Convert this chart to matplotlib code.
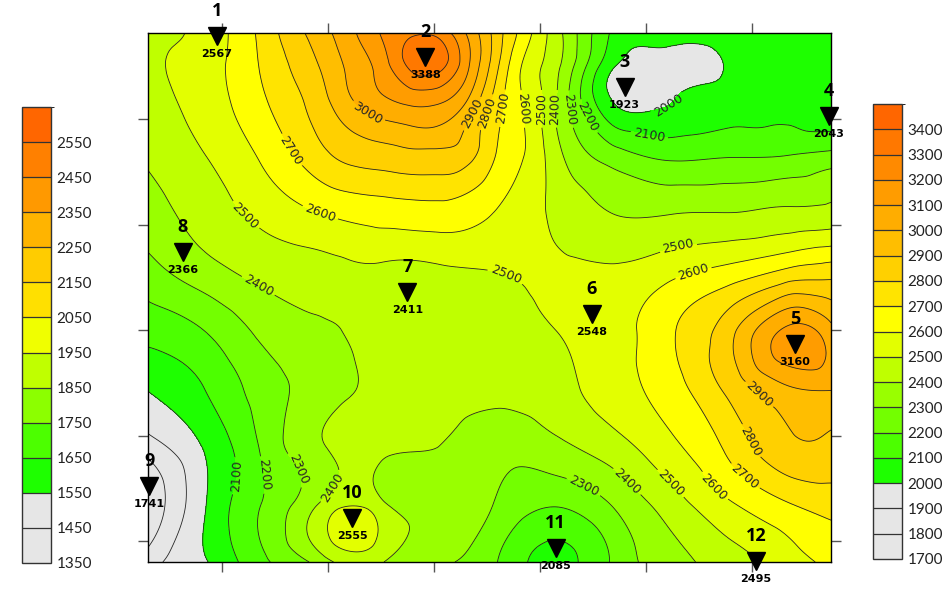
import numpy as np
import matplotlib
matplotlib.use("Agg")
import matplotlib.pyplot as plt
import matplotlib.tri as mtri
from matplotlib.colors import ListedColormap, BoundaryNorm
from matplotlib.cm import ScalarMappable

# survey grid (map units)
grid_x = [30, 85, 140, 195, 250, 305, 360, 415, 470, 525, 580, 635, 675]
grid_y = [582, 551, 520, 465, 410, 355, 300, 245, 190, 135, 80]
grid_z = [
    [2475, 2565, 2740, 2965, 3205, 3260, 2845, 2445, 2080, 2070, 2060, 2045, 2050],
    [2480, 2560, 2720, 2915, 3145, 3290, 2815, 2430, 2010, 1965, 2010, 2040, 2045],
    [2460, 2550, 2695, 2875, 3085, 3130, 2750, 2405, 2010, 1995, 2040, 2065, 2055],
    [2415, 2500, 2620, 2775, 2850, 2870, 2690, 2440, 2250, 2180, 2195, 2205, 2235],
    [2355, 2445, 2530, 2600, 2640, 2655, 2590, 2480, 2400, 2400, 2405, 2425, 2435],
    [2260, 2360, 2430, 2455, 2470, 2475, 2500, 2515, 2520, 2575, 2640, 2730, 2760],
    [2140, 2205, 2330, 2390, 2420, 2440, 2470, 2500, 2560, 2690, 2870, 3100, 3030],
    [2005, 2105, 2250, 2355, 2420, 2430, 2430, 2470, 2550, 2660, 2830, 2990, 3010],
    [1850, 2015, 2225, 2395, 2430, 2400, 2340, 2375, 2460, 2580, 2730, 2880, 2880],
    [1780, 2000, 2210, 2420, 2425, 2360, 2290, 2210, 2310, 2455, 2590, 2695, 2740],
    [1850, 1995, 2185, 2355, 2410, 2315, 2200, 2100, 2220, 2355, 2460, 2555, 2620],
]

# extra readings around the northern high and the low near well 3
infill_x = [112.5, 222.5, 277.5, 332.5, 387.5,
            112.5, 222.5, 332.5, 387.5,
            112.5, 222.5, 277.5, 332.5, 387.5,
            195, 222.5, 250, 277.5, 305, 332.5, 360, 387.5,
            222.5, 277.5, 332.5, 387.5,
            505, 560]
infill_y = [582, 582, 582, 582, 582,
            551, 551, 551, 551,
            520, 520, 520, 520, 520,
            492, 492, 492, 492, 492, 492, 492, 492,
            465, 465, 465, 465,
            540, 565]
infill_z = [2635, 3080, 3270, 3080, 2635,
            2625, 3030, 3110, 2570,
            2615, 3000, 3140, 3000, 2580,
            2830, 2910, 2960, 2990, 2990, 2880, 2710, 2590,
            2830, 2870, 2830, 2590,
            1945, 1990]

# wells
well_id = [1, 2, 3, 4, 5, 6, 7, 8, 9, 10, 11, 12]
well_x = [95, 292, 480, 673, 641, 449, 275, 63, 31, 223, 415, 604]
well_y = [579, 559, 531, 503, 287, 315, 336, 374, 152, 122, 93, 81]
well_val = [2567, 3388, 1923, 2043, 3160, 2548, 2411, 2366, 1741, 2555, 2085, 2495]

# colour scales
main_bounds = list(range(1700, 3600, 100))
main_colors = ["#e6e6e6", "#e6e6e6", "#e6e6e6",
               "#1eff00", "#4cff00", "#73ff00", "#99ff00", "#bfff00", "#e3ff00", "#ffff00",
               "#ffe400", "#ffd000", "#ffbe00", "#ffad00", "#ff9c00", "#ff8a00", "#ff7800", "#ff6600"]
side_bounds = list(range(1350, 2750, 100))
side_colors = ["#e6e6e6", "#e6e6e6", "#1eff00", "#4cff00", "#8cff00", "#c0ff00", "#f0ff00",
               "#ffe000", "#ffcc00", "#ffb400", "#ff9900", "#ff8000", "#ff6600"]

x_ticks = [100, 200, 300, 400, 500, 600]
y_ticks = [100, 200, 300, 400, 500]

# where the contour values are written on the lines
label_spots = [
    (238, 507), (332, 508), (355, 505), (369, 510), (385, 510), (402, 510),
    (417, 510), (431, 510), (450, 505), (504, 488), (518, 519),
    (159, 467), (191, 407), (120, 407), (134, 342), (367, 350),
    (530, 383), (544, 358), (603, 235), (600, 195), (596, 164),
    (565, 152), (525, 156), (482, 156), (440, 149),
    (109, 162), (134, 162), (161, 162), (191, 161),
]

# surface through the grid nodes, the extra readings and the well values
gx, gy = np.meshgrid(grid_x, grid_y)
px = np.concatenate([gx.ravel(), infill_x]).astype(float)
py = np.concatenate([gy.ravel(), infill_y]).astype(float)
pz = np.concatenate([np.array(grid_z).ravel(), infill_z]).astype(float)
keep = np.ones(px.size, bool)
for wx, wy in zip(well_x, well_y):
    keep &= np.hypot(px - wx, py - wy) > 20
tx = np.concatenate([px[keep], well_x])
ty = np.concatenate([py[keep], well_y])
tz = np.concatenate([pz[keep], well_val])

tri = mtri.Triangulation(tx, ty)
interp = mtri.CubicTriInterpolator(tri, tz, kind="min_E")
xi = np.linspace(30.01, 674.99, 420)
yi = np.linspace(80.01, 581.99, 330)
XI, YI = np.meshgrid(xi, yi)
ZI = interp(XI, YI)
ZI = np.ma.clip(ZI, main_bounds[0] + 1, main_bounds[-1] - 1)

fig = plt.figure(figsize=(9.45, 5.96), dpi=100)
ax = fig.add_axes([148 / 945, 34 / 596, 683 / 945, 529 / 596])

cmap = ListedColormap(main_colors)
norm = BoundaryNorm(main_bounds, cmap.N)
ax.contourf(XI, YI, ZI, levels=main_bounds, cmap=cmap, norm=norm)
cs = ax.contour(XI, YI, ZI, levels=main_bounds[1:-1], colors="#262626", linewidths=0.6)
labels = ax.clabel(cs, manual=label_spots, fmt="%d", fontsize=9, inline=True, inline_spacing=3)
for t in labels:
    t.set_family("DejaVu Sans")

ax.set_xlim(30, 675)
ax.set_ylim(80, 582)
ax.set_xticks(x_ticks)
ax.set_yticks(y_ticks)
ax.tick_params(direction="out", length=7, width=1, color="#555555",
               top=True, right=True, labelbottom=False, labelleft=False)
for s in ax.spines.values():
    s.set_linewidth(1.0)
    s.set_color("black")

# well markers with number above and value below
ax.plot(well_x, well_y, "v", color="black", ms=12.5, clip_on=False, zorder=6)
for wid, wx, wy, wv in zip(well_id, well_x, well_y, well_val):
    ax.annotate(str(wid), (wx, wy), xytext=(0, 18), textcoords="offset points",
                ha="center", va="center", fontsize=13, fontweight="bold",
                family="Open Sans", annotation_clip=False, zorder=7)
    ax.annotate(str(wv), (wx, wy), xytext=(0, -13), textcoords="offset points",
                ha="center", va="center", fontsize=8, fontweight="bold",
                family="DejaVu Sans", annotation_clip=False, zorder=7)


def add_scale(rect, colors, bounds):
    cax = fig.add_axes(rect)
    cm = ListedColormap(colors)
    sm = ScalarMappable(norm=BoundaryNorm(bounds, cm.N), cmap=cm)
    cb = fig.colorbar(sm, cax=cax, boundaries=bounds, ticks=bounds[:-1],
                      drawedges=True, spacing="uniform")
    cb.dividers.set_color("#333333")
    cb.dividers.set_linewidth(0.9)
    cb.outline.set_edgecolor("#333333")
    cb.outline.set_linewidth(1.0)
    cax.tick_params(length=0, pad=4, labelsize=11, labelcolor="#222222")
    for lbl in cax.get_yticklabels():
        lbl.set_family("Lato")
    return cb


add_scale([22 / 945, 33 / 596, 29 / 945, 456 / 596], side_colors, side_bounds)
add_scale([873 / 945, 37 / 596, 29 / 945, 455 / 596], main_colors, main_bounds)

fig.savefig("out.png", dpi=100, facecolor="white")
